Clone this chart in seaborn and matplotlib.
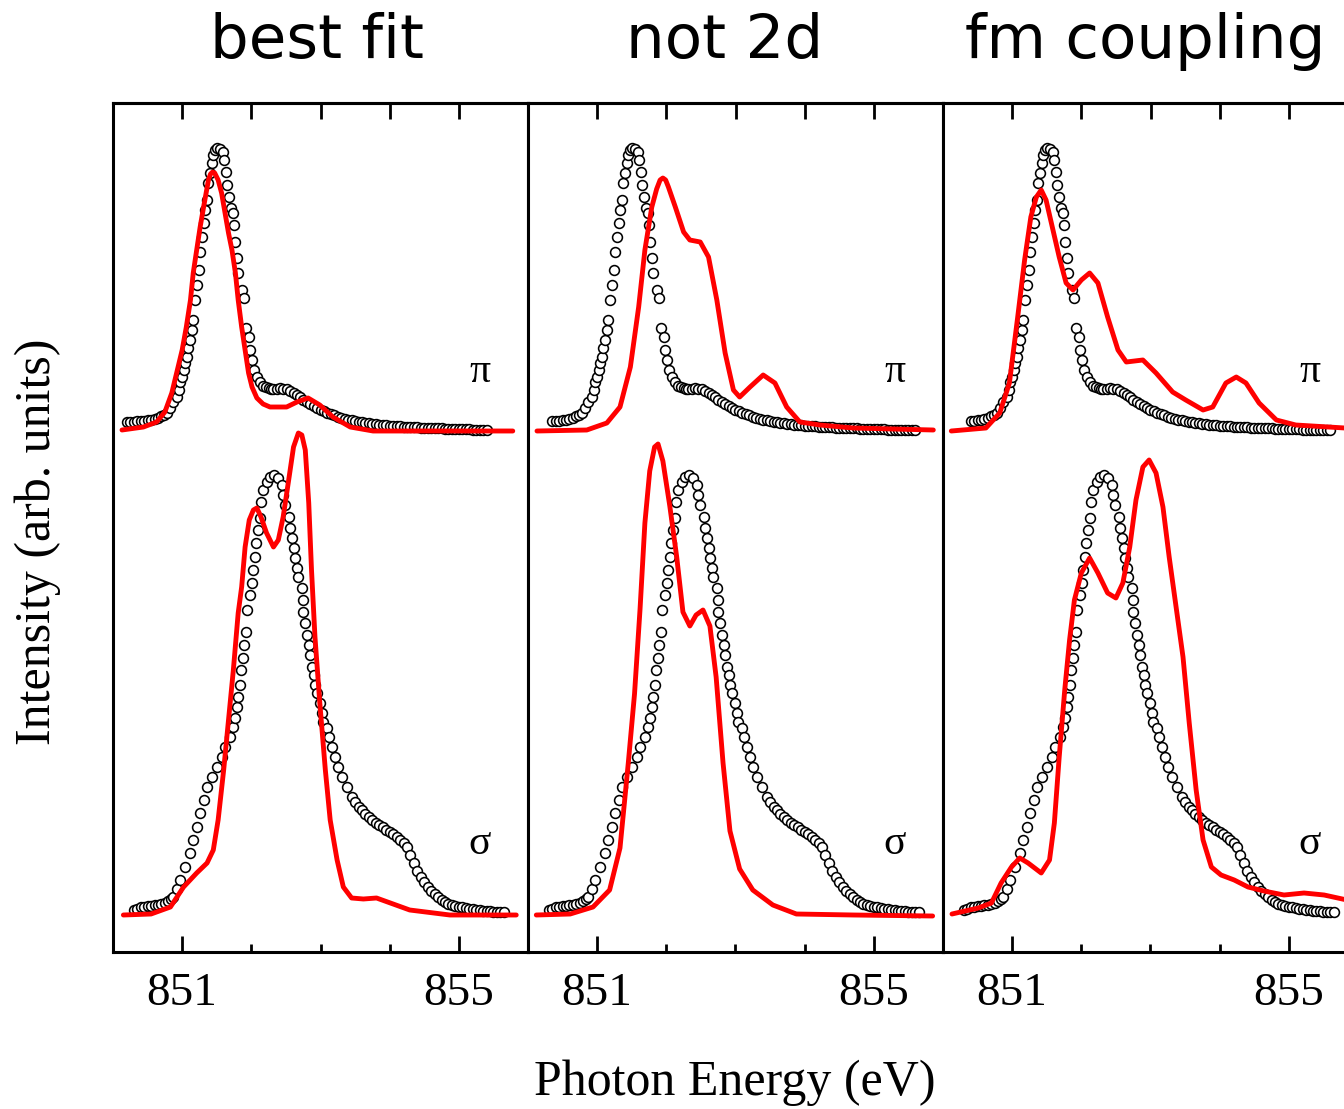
import numpy as np
import pandas as pd
import matplotlib
import seaborn as sns
matplotlib.use('Agg')
import matplotlib.pyplot as plt
from matplotlib.ticker import FixedLocator

# ---------------- data ----------------
panel_titles = ['best fit', 'not 2d', 'fm coupling']

# measured spectra (open circles) - same data in every panel
exp_energy_pi = [
    850.20, 850.25, 850.30, 850.35, 850.40, 850.45, 850.50, 850.55, 850.60, 850.65,
    850.70, 850.74, 850.78, 850.83, 850.87, 850.92, 850.95, 850.97, 851.00, 851.02,
    851.04, 851.07, 851.09, 851.12, 851.14, 851.16, 851.19, 851.21, 851.24, 851.26,
    851.28, 851.31, 851.33, 851.36, 851.38, 851.40, 851.43, 851.45, 851.48, 851.51,
    851.55, 851.59, 851.61, 851.64, 851.65, 851.67, 851.70, 851.73, 851.75, 851.77,
    851.79, 851.81, 851.86, 851.90, 851.93, 851.96, 851.98, 852.01, 852.04, 852.08,
    852.13, 852.17, 852.21, 852.25, 852.29, 852.32, 852.37, 852.42, 852.46, 852.51,
    852.56, 852.61, 852.66, 852.71, 852.75, 852.80, 852.85, 852.90, 852.95, 853.00,
    853.05, 853.10, 853.15, 853.20, 853.25, 853.30, 853.35, 853.40, 853.45, 853.50,
    853.55, 853.60, 853.65, 853.70, 853.75, 853.80, 853.85, 853.90, 853.95, 854.00,
    854.05, 854.10, 854.15, 854.20, 854.25, 854.30, 854.35, 854.40, 854.45, 854.50,
    854.55, 854.60, 854.65, 854.70, 854.75, 854.80, 854.85, 854.90, 854.95, 855.00,
    855.05, 855.10, 855.15, 855.20, 855.25, 855.30, 855.35, 855.40, 855.45, 855.50,
    855.55, 855.60]
exp_pi = [
    0.09, 0.09, 0.09, 0.10, 0.10, 0.10, 0.11, 0.11, 0.12, 0.13,
    0.15, 0.16, 0.18, 0.23, 0.29, 0.34, 0.41, 0.49, 0.54, 0.61,
    0.68, 0.74, 0.83, 0.91, 1.01, 1.11, 1.31, 1.46, 1.61, 1.79,
    1.94, 2.08, 2.21, 2.31, 2.48, 2.58, 2.68, 2.76, 2.81, 2.83,
    2.82, 2.79, 2.71, 2.59, 2.46, 2.34, 2.23, 2.18, 2.06, 1.89,
    1.73, 1.58, 1.41, 1.33, 1.03, 0.94, 0.81, 0.71, 0.61, 0.54,
    0.49, 0.45, 0.44, 0.43, 0.42, 0.42, 0.42, 0.43, 0.42, 0.42,
    0.40, 0.38, 0.36, 0.34, 0.31, 0.29, 0.27, 0.25, 0.23, 0.21,
    0.20, 0.18, 0.17, 0.16, 0.14, 0.13, 0.12, 0.11, 0.11, 0.10,
    0.09, 0.09, 0.08, 0.08, 0.07, 0.07, 0.06, 0.06, 0.06, 0.05,
    0.05, 0.05, 0.05, 0.04, 0.04, 0.04, 0.04, 0.04, 0.03, 0.03,
    0.03, 0.03, 0.03, 0.03, 0.03, 0.02, 0.02, 0.02, 0.02, 0.02,
    0.02, 0.02, 0.02, 0.01, 0.01, 0.01, 0.01, 0.01, 0.01, 0.01,
    0.01, 0.01]
# the pi scan covers a slightly different range in each panel
exp_pi_start = [850.20, 850.35, 850.40]
exp_pi_end = [855.40, 855.60, 855.60]

exp_energy_sigma = [
    850.30, 850.35, 850.40, 850.45, 850.50, 850.55, 850.60, 850.65, 850.70, 850.75,
    850.80, 850.84, 850.87, 850.92, 850.97, 851.04, 851.12, 851.16, 851.21, 851.26,
    851.31, 851.36, 851.43, 851.50, 851.57, 851.62, 851.69, 851.74, 851.77, 851.79,
    851.81, 851.83, 851.85, 851.88, 851.90, 851.92, 851.94, 851.98, 852.01, 852.03,
    852.05, 852.07, 852.09, 852.12, 852.14, 852.17, 852.22, 852.27, 852.33, 852.39,
    852.44, 852.46, 852.49, 852.54, 852.56, 852.59, 852.61, 852.63, 852.66, 852.68,
    852.73, 852.74, 852.75, 852.78, 852.80, 852.83, 852.85, 852.87, 852.90, 852.92,
    852.95, 852.99, 853.02, 853.04, 853.09, 853.13, 853.16, 853.21, 853.26, 853.31,
    853.38, 853.45, 853.50, 853.55, 853.60, 853.65, 853.70, 853.75, 853.80, 853.85,
    853.90, 853.95, 854.00, 854.05, 854.10, 854.15, 854.20, 854.25, 854.30, 854.35,
    854.40, 854.45, 854.50, 854.55, 854.60, 854.65, 854.70, 854.75, 854.80, 854.85,
    854.90, 854.95, 855.00, 855.05, 855.10, 855.15, 855.20, 855.25, 855.30, 855.35,
    855.40, 855.45, 855.50, 855.55, 855.60, 855.65]
exp_sigma = [
    0.07, 0.08, 0.10, 0.10, 0.11, 0.11, 0.12, 0.12, 0.13, 0.14,
    0.16, 0.18, 0.20, 0.28, 0.37, 0.50, 0.64, 0.77, 0.90, 1.04,
    1.17, 1.30, 1.40, 1.50, 1.60, 1.70, 1.80, 1.90, 1.99, 2.10,
    2.20, 2.32, 2.47, 2.59, 2.72, 2.85, 3.07, 3.22, 3.34, 3.47,
    3.60, 3.74, 3.87, 3.99, 4.15, 4.27, 4.35, 4.40, 4.42, 4.39,
    4.32, 4.22, 4.12, 4.00, 3.89, 3.79, 3.69, 3.59, 3.49, 3.40,
    3.29, 3.17, 3.05, 2.94, 2.82, 2.72, 2.62, 2.50, 2.42, 2.32,
    2.24, 2.14, 2.04, 1.95, 1.89, 1.80, 1.70, 1.60, 1.50, 1.40,
    1.30, 1.20, 1.15, 1.10, 1.07, 1.03, 1.00, 0.97, 0.94, 0.92,
    0.90, 0.87, 0.85, 0.83, 0.80, 0.77, 0.74, 0.70, 0.62, 0.54,
    0.46, 0.40, 0.35, 0.30, 0.26, 0.23, 0.20, 0.17, 0.15, 0.13,
    0.12, 0.11, 0.10, 0.10, 0.09, 0.08, 0.08, 0.07, 0.07, 0.06,
    0.06, 0.06, 0.05, 0.05, 0.05, 0.05]

# calculated spectra (red lines), one per panel
calc_energy_pi = [
    [850.13, 850.44, 850.63, 850.75, 850.85, 850.92, 851.00, 851.06, 851.12, 851.16,
     851.21, 851.26, 851.31, 851.38, 851.41, 851.44, 851.47, 851.52, 851.57, 851.62,
     851.67, 851.72, 851.77, 851.81, 851.86, 851.91, 851.96, 852.01, 852.08, 852.17,
     852.27, 852.51, 852.66, 852.82, 852.99, 853.18, 853.43, 853.76, 855.78],
    [850.13, 850.85, 851.14, 851.33, 851.48, 851.60, 851.69, 851.79, 851.86, 851.91,
     851.95, 851.99, 852.03, 852.13, 852.25, 852.34, 852.49, 852.61, 852.73, 852.85,
     852.97, 853.06, 853.21, 853.40, 853.57, 853.74, 853.93, 854.22, 854.70, 855.86],
    [850.12, 850.62, 850.82, 850.96, 851.08, 851.18, 851.27, 851.35, 851.42, 851.49,
     851.59, 851.68, 851.78, 851.88, 852.00, 852.12, 852.24, 852.38, 852.53, 852.65,
     852.89, 853.08, 853.32, 853.51, 853.76, 853.90, 854.09, 854.24, 854.38, 854.57,
     854.82, 855.10, 855.81]]
calc_pi = [
    [0.01, 0.04, 0.09, 0.19, 0.38, 0.58, 0.81, 1.04, 1.31, 1.58,
     1.81, 2.04, 2.24, 2.51, 2.57, 2.59, 2.58, 2.51, 2.38, 2.18,
     1.98, 1.81, 1.58, 1.31, 1.04, 0.81, 0.58, 0.44, 0.33, 0.27,
     0.24, 0.24, 0.29, 0.33, 0.26, 0.14, 0.04, 0.00, 0.00],
    [0.00, 0.01, 0.08, 0.24, 0.64, 1.24, 1.81, 2.24, 2.42, 2.51,
     2.53, 2.51, 2.44, 2.24, 1.99, 1.91, 1.89, 1.74, 1.31, 0.78,
     0.41, 0.34, 0.44, 0.56, 0.48, 0.24, 0.09, 0.06, 0.03, 0.01],
    [0.00, 0.03, 0.18, 0.48, 1.14, 1.71, 2.14, 2.34, 2.41, 2.31,
     2.01, 1.74, 1.48, 1.41, 1.51, 1.58, 1.48, 1.14, 0.81, 0.69,
     0.71, 0.58, 0.39, 0.31, 0.21, 0.24, 0.48, 0.54, 0.48, 0.28,
     0.11, 0.06, 0.03]]

calc_energy_sigma = [
    [850.15, 850.55, 850.83, 851.02, 851.21, 851.36, 851.45, 851.52, 851.60, 851.67,
     851.74, 851.81, 851.86, 851.91, 851.97, 852.03, 852.08, 852.14, 852.22, 852.32,
     852.39, 852.46, 852.54, 852.61, 852.68, 852.73, 852.78, 852.83, 852.87, 852.92,
     852.99, 853.07, 853.14, 853.24, 853.33, 853.45, 853.62, 853.81, 854.01, 854.29,
     854.87, 855.83],
    [850.12, 850.61, 850.94, 851.18, 851.33, 851.45, 851.54, 851.62, 851.69, 851.76,
     851.83, 851.88, 851.95, 852.05, 852.15, 852.24, 852.34, 852.43, 852.53, 852.63,
     852.72, 852.82, 852.92, 853.06, 853.25, 853.54, 853.88, 854.70, 855.85],
    [850.13, 850.51, 850.70, 850.84, 850.99, 851.11, 851.23, 851.42, 851.54, 851.61,
     851.68, 851.76, 851.83, 851.90, 852.00, 852.12, 852.24, 852.38, 852.50, 852.60,
     852.70, 852.79, 852.89, 852.98, 853.08, 853.18, 853.27, 853.37, 853.47, 853.56,
     853.66, 853.76, 853.88, 854.02, 854.21, 854.41, 854.64, 854.93, 855.22, 855.51,
     855.84]]
calc_sigma = [
    [0.02, 0.03, 0.10, 0.30, 0.44, 0.54, 0.67, 0.97, 1.47, 1.97,
     2.47, 3.04, 3.30, 3.70, 3.97, 4.07, 4.09, 4.00, 3.84, 3.70,
     3.77, 4.00, 4.37, 4.70, 4.84, 4.82, 4.67, 4.14, 3.47, 2.80,
     2.14, 1.47, 0.97, 0.57, 0.30, 0.19, 0.18, 0.19, 0.14, 0.07,
     0.02, 0.02],
    [0.02, 0.03, 0.10, 0.27, 0.69, 1.54, 2.23, 3.08, 3.94, 4.46,
     4.70, 4.73, 4.56, 4.11, 3.60, 3.05, 2.91, 3.02, 3.07, 2.91,
     2.40, 1.54, 0.86, 0.48, 0.27, 0.12, 0.03, 0.02, 0.01],
    [0.03, 0.09, 0.14, 0.34, 0.50, 0.59, 0.54, 0.44, 0.57, 0.94,
     1.60, 2.27, 2.77, 3.17, 3.44, 3.59, 3.44, 3.24, 3.19, 3.34,
     3.70, 4.17, 4.50, 4.57, 4.44, 4.10, 3.60, 3.10, 2.60, 1.94,
     1.27, 0.77, 0.50, 0.42, 0.37, 0.30, 0.26, 0.22, 0.24, 0.22,
     0.17]]

pi_offset = 4.86   # vertical shift of the pi spectra

# ---------------- plotting ----------------
sns.set_style("ticks")
plt.rcParams['font.family'] = ['Liberation Serif', 'DejaVu Serif']
plt.rcParams['text.color'] = 'black'
plt.rcParams['xtick.color'] = 'black'
plt.rcParams['xtick.labelcolor'] = 'black'

W, H = 1344, 1109
fig = plt.figure(figsize=(W / 100, H / 100), dpi=100)

panel_left = [113, 528, 943]   # pixel position of each panel's left edge
panel_width = 415
title_x = [317, 725, 1145]

exp_pi_df = pd.DataFrame({'energy': exp_energy_pi, 'intensity': exp_pi})

for i in range(3):
    ax = fig.add_axes([panel_left[i] / W, 1 - 952 / H, panel_width / W, 849 / H])

    # open circles: measurement
    window = exp_pi_df[(exp_pi_df.energy >= exp_pi_start[i] - 1e-6) &
                       (exp_pi_df.energy <= exp_pi_end[i] + 1e-6)]
    sns.scatterplot(x=window.energy, y=window.intensity + pi_offset, ax=ax,
                    marker='o', s=50, color='white', edgecolor='black',
                    linewidth=1.15, zorder=2, legend=False)
    sns.scatterplot(x=exp_energy_sigma, y=exp_sigma, ax=ax,
                    marker='o', s=50, color='white', edgecolor='black',
                    linewidth=1.15, zorder=2, legend=False)

    # red lines: calculation
    sns.lineplot(x=calc_energy_pi[i], y=np.array(calc_pi[i]) + pi_offset, ax=ax,
                 color='#ff0000', lw=3.5, sort=False, estimator=None, zorder=3)
    sns.lineplot(x=calc_energy_sigma[i], y=calc_sigma[i], ax=ax,
                 color='#ff0000', lw=3.5, sort=False, estimator=None, zorder=3)

    ax.set_xlim(850, 856)
    ax.set_ylim(-0.35, 8.14)
    ax.set_xlabel('')
    ax.set_ylabel('')
    ax.set_yticks([])

    ax.set_xticks([851, 855])
    ax.set_xticklabels(['851', '855'])
    ax.xaxis.set_minor_locator(FixedLocator([852, 853, 854]))
    ax.tick_params(axis='x', which='major', direction='in', length=11.5, width=2,
                   labelsize=34, pad=15, top=False)
    ax.tick_params(axis='x', which='minor', direction='in', length=5.8, width=2,
                   top=False)

    top = ax.secondary_xaxis('top')
    top.set_xticks([851, 852, 853, 854, 855])
    top.tick_params(direction='in', length=11.5, width=2, labeltop=False)
    top.spines['top'].set_linewidth(2.2)

    for sp in ax.spines.values():
        sp.set_linewidth(2.2)
        sp.set_color('black')
        sp.set_visible(True)

    ax.text(855.3, pi_offset + 0.49, 'π', fontsize=30, ha='center', va='baseline')
    ax.text(855.3, 0.63, 'σ', fontsize=30, ha='center', va='baseline')

    fig.text(title_x[i] / W, 1 - 58 / H, panel_titles[i], fontsize=44,
             family='DejaVu Sans', ha='center', va='baseline')

fig.text(735 / W, 1 - 1095 / H, 'Photon Energy (eV)', fontsize=36,
         ha='center', va='baseline')
fig.text(38 / W, 1 - 542 / H, 'Intensity (arb. units)', fontsize=36,
         rotation=90, ha='center', va='center')

fig.savefig('out.png', dpi=100)
plt.close(fig)
